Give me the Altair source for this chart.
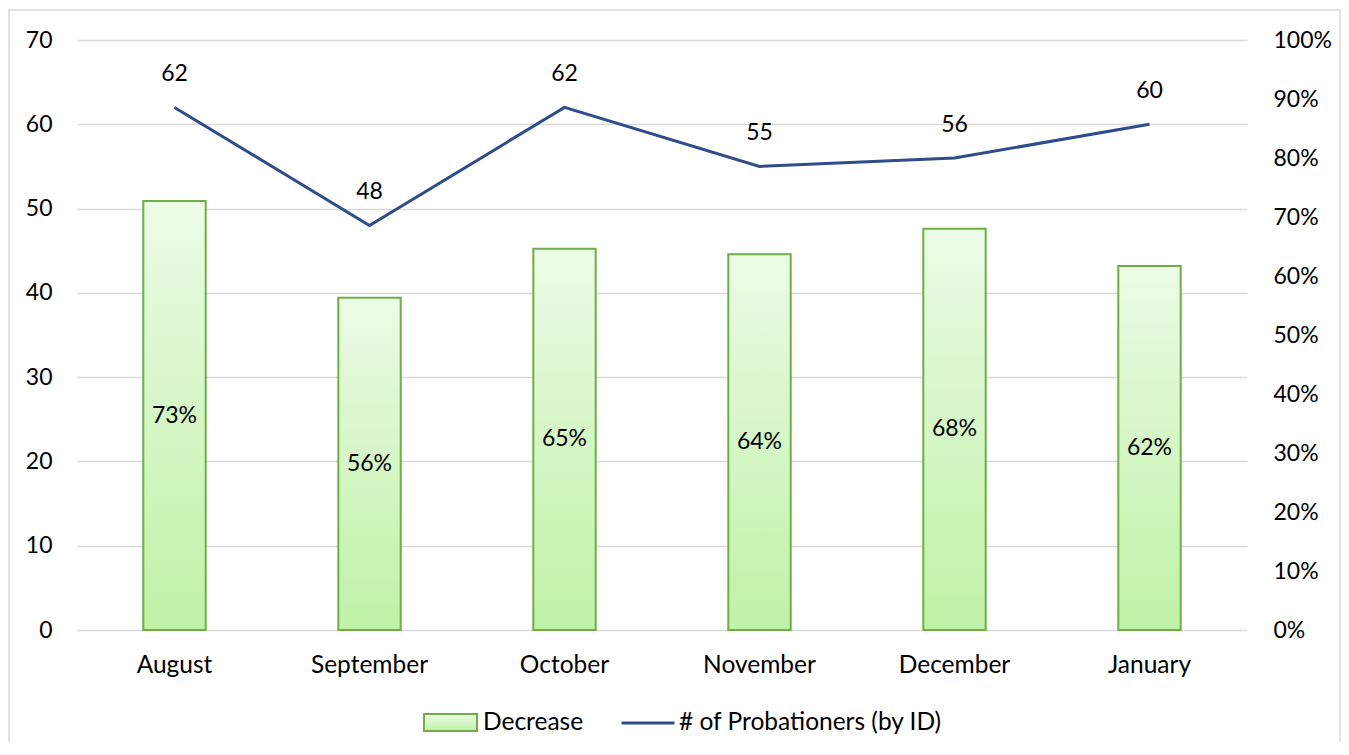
import altair as alt
import pandas as pd

months = ["August", "September", "October", "November", "December", "January"]
decrease = [0.727, 0.563, 0.646, 0.637, 0.680, 0.617]
probationers = [62, 48, 62, 55, 56, 60]
left_ticks = [0, 10, 20, 30, 40, 50, 60, 70]
right_ticks = [0.0, 0.1, 0.2, 0.3, 0.4, 0.5, 0.6, 0.7, 0.8, 0.9, 1.0]
bar_series = "Decrease"
line_series = "# of Probationers (by ID)"

df = pd.DataFrame({
    "month": months,
    "decrease": decrease,
    "mid": [d / 2 for d in decrease],
    "count": probationers,
    "bar_series": [bar_series] * len(months),
    "line_series": [line_series] * len(months),
})

FONT = "Lato"
FS = 23
FS_WORD = 24.5
W, H = 1170, 590
PAD_L, PAD_T, PAD_R, PAD_B = 69, 32, 94, 112

x = alt.X(
    "month:N", sort=months,
    scale=alt.Scale(paddingInner=0.68, paddingOuter=0.34),
    axis=alt.Axis(title=None, labelAngle=0, ticks=False, domain=False,
                  labelPadding=23, labelFontSize=FS_WORD, labelFont=FONT,
                  labelColor="#000000"),
)

grad = alt.Gradient(
    gradient="linear",
    stops=[alt.GradientStop(color="#ecfbe6", offset=0),
           alt.GradientStop(color="#bff2a6", offset=1)],
    x1=0, x2=0, y1=0, y2=1,
)

bar_scale = alt.Scale(domain=[0, 1])
bar_axis = alt.Axis(orient="right", format=".0%", values=right_ticks, grid=False,
                    ticks=False, domain=False, labelPadding=26, title=None,
                    labelFontSize=FS, labelFont=FONT, labelColor="#000000")

bars = alt.Chart(df).mark_bar(fill=grad, stroke="#70ad47", strokeWidth=2).encode(
    x=x,
    y=alt.Y("decrease:Q", scale=bar_scale, axis=bar_axis),
    opacity=alt.Opacity(
        "bar_series:N",
        scale=alt.Scale(domain=[bar_series], range=[1]),
        legend=alt.Legend(
            title=None, orient="none", legendX=346, legendY=655,
            symbolType="M-1,-0.32H1V0.32H-1Z", symbolSize=2809,
            symbolStrokeWidth=2,
            labelFontSize=FS_WORD, labelFont=FONT,
            labelColor="#000000", labelOffset=5, padding=0, labelLimit=0,
        ),
    ),
)

bar_text = alt.Chart(df).mark_text(fontSize=FS, font=FONT, color="#000000").encode(
    x=x,
    y=alt.Y("mid:Q", scale=bar_scale, axis=bar_axis),
    text=alt.Text("decrease:Q", format=".0%"),
)

line_scale = alt.Scale(domain=[0, 70])
line_axis = alt.Axis(orient="left", values=left_ticks, grid=True, gridColor="#d9d9d9",
                     gridWidth=1.5, ticks=False, domain=False, labelPadding=25,
                     title=None, labelFontSize=FS, labelFont=FONT,
                     labelColor="#000000")

line = alt.Chart(df).mark_line(strokeWidth=3).encode(
    x=x,
    y=alt.Y("count:Q", scale=line_scale, axis=line_axis),
    stroke=alt.Stroke(
        "line_series:N",
        scale=alt.Scale(domain=[line_series], range=["#2f4c8c"]),
        legend=alt.Legend(
            title=None, orient="none", legendX=543, legendY=655,
            symbolType="stroke", symbolSize=2809, symbolStrokeWidth=3,
            labelFontSize=FS_WORD, labelFont=FONT, labelColor="#000000",
            labelOffset=3, padding=0, labelLimit=0,
        ),
    ),
)

line_text = alt.Chart(df).mark_text(fontSize=FS, font=FONT, color="#000000", dy=-33).encode(
    x=x,
    y=alt.Y("count:Q", scale=line_scale, axis=line_axis),
    text=alt.Text("count:Q"),
)

frame = alt.Chart(pd.DataFrame({"a": [0]})).mark_rect(
    fill=None, stroke="#d9d9d9", strokeWidth=1.5
).encode(
    x=alt.value(-PAD_L + 1), x2=alt.value(W + PAD_R - 1),
    y=alt.value(-PAD_T + 2), y2=alt.value(H + PAD_B + 20),
)

chart = alt.layer(
    frame,
    alt.layer(bars, bar_text),
    alt.layer(line, line_text),
).resolve_scale(y="independent").properties(
    width=W, height=H,
    autosize=alt.AutoSizeParams(type="none"),
    padding={"left": PAD_L, "top": PAD_T, "right": PAD_R, "bottom": PAD_B},
).configure_view(stroke=None)

chart.save("out.html", embed_options={"renderer": "svg", "actions": False})
